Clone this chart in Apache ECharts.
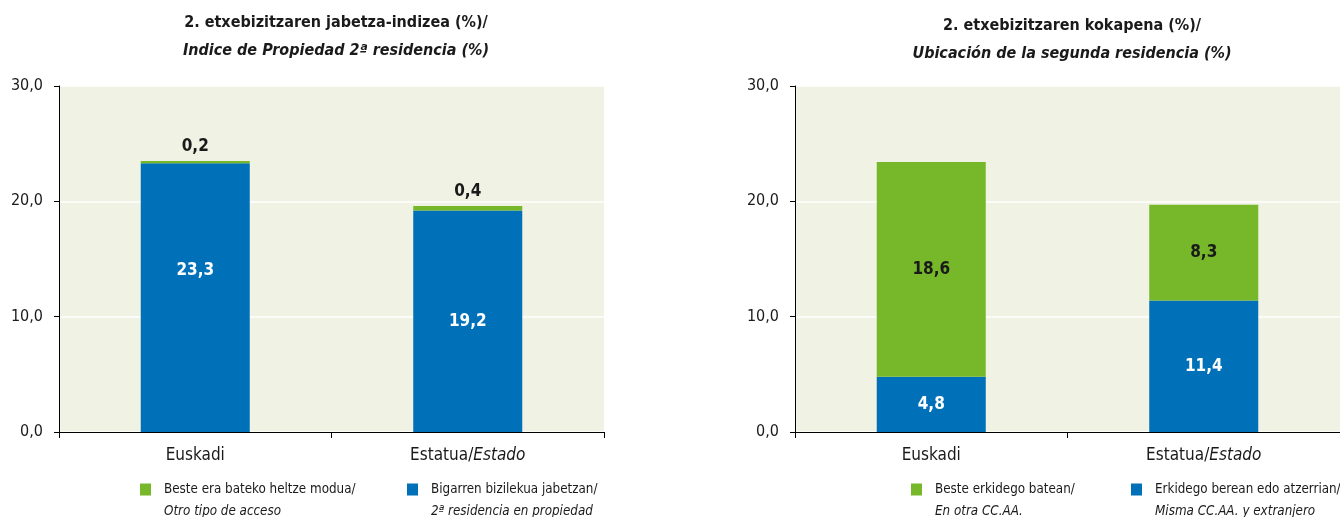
<!DOCTYPE html>
<html>
<head>
<meta charset="utf-8">
<script src="https://cdn.jsdelivr.net/npm/echarts@6/dist/echarts.min.js"></script>
<style>
  html, body { margin: 0; padding: 0; background: #fff; }
  #chart { width: 1340px; height: 517px; }
</style>
</head>
<body>
<div id="chart"></div>
<script>
// datuak / datos
const categories = ['Euskadi', 'Estatua/Estado'];
const ownedSecond = [23.3, 19.2];   // Bigarren bizilekua jabetzan
const otherAccess = [0.2, 0.4];     // Beste era bateko heltze modua
const sameRegion = [4.8, 11.4];     // Erkidego berean edo atzerrian
const otherRegion = [18.6, 8.3];    // Beste erkidego batean
const yMin = 0, yMax = 30, yStep = 10;

const titles = [
    ['2. etxebizitzaren jabetza-indizea (%)/', 'Indice de Propiedad 2ª residencia (%)'],
    ['2. etxebizitzaren kokapena (%)/', 'Ubicación de la segunda residencia (%)']
];
const legendText = {
    'Beste era bateko heltze modua/': 'Otro tipo de acceso',
    'Bigarren bizilekua jabetzan/': '2ª residencia en propiedad',
    'Beste erkidego batean/': 'En otra CC.AA.',
    'Erkidego berean edo atzerrian/': 'Misma CC.AA. y extranjero'
};

const GREEN = '#76b82a';
const BLUE = '#0071b9';
const FONT = "'Liberation Sans Narrow', 'DejaVu Sans Condensed', sans-serif";

var myChart = echarts.init(document.getElementById('chart'));

function fmt(v) {
    return v.toFixed(1).replace('.', ',');
}

function makeTitle(t, x, y) {
    return {
        text: '{a|' + t[0] + '}\n{b|' + t[1] + '}',
        left: x,
        top: y,
        textAlign: 'center',
        textStyle: {
            rich: {
                a: { fontFamily: FONT, fontSize: 16, fontWeight: 'bold', color: '#1a1a1a', lineHeight: 28 },
                b: { fontFamily: FONT, fontSize: 16, fontWeight: 'bold', fontStyle: 'italic', color: '#1a1a1a', lineHeight: 28 }
            }
        }
    };
}

function makeLegend(name, x) {
    return {
        data: [name],
        left: x,
        top: 483,
        padding: 0,
        itemWidth: 11,
        itemHeight: 12,
        icon: 'rect',
        selectedMode: false,
        formatter: function (n) {
            return '{a|' + n + '}\n{b|' + legendText[n] + '}';
        },
        textStyle: {
            padding: [22, 0, 0, 8],
            rich: {
                a: { fontFamily: FONT, fontSize: 13.3, color: '#1a1a1a', lineHeight: 22 },
                b: { fontFamily: FONT, fontSize: 13.3, fontStyle: 'italic', color: '#1a1a1a', lineHeight: 22 }
            }
        }
    };
}

function makeXAxis(gridIndex) {
    return {
        type: 'category',
        gridIndex: gridIndex,
        data: categories,
        axisLine: { show: true, lineStyle: { color: '#000', width: 1 } },
        axisTick: { show: true, length: 6, lineStyle: { color: '#000' } },
        axisLabel: {
            margin: 15,
            formatter: function (v) {
                var p = v.split('/');
                return p.length > 1 ? '{n|' + p[0] + '/}{i|' + p[1] + '}' : '{n|' + v + '}';
            },
            rich: {
                n: { fontFamily: FONT, fontSize: 17, color: '#1a1a1a' },
                i: { fontFamily: FONT, fontSize: 17, fontStyle: 'italic', color: '#1a1a1a' }
            }
        }
    };
}

function makeYAxis(gridIndex) {
    return {
        type: 'value',
        gridIndex: gridIndex,
        min: yMin,
        max: yMax,
        interval: yStep,
        axisLine: { show: true, lineStyle: { color: '#000', width: 1 } },
        axisTick: { show: true, length: 5, lineStyle: { color: '#000' } },
        axisLabel: {
            margin: 16,
            fontFamily: FONT,
            fontSize: 16,
            color: '#1a1a1a',
            formatter: function (v) { return fmt(v); }
        },
        splitLine: { show: true, lineStyle: { color: '#ffffff', width: 1.5 } }
    };
}

function insideLabel(color) {
    return {
        show: true,
        position: 'inside',
        fontFamily: FONT,
        fontSize: 17,
        fontWeight: 'bold',
        color: color,
        formatter: function (p) { return fmt(p.value); }
    };
}

// 23,3 etiketa barraren erdian baino gorago dago jatorrizkoan
var ownedData = ownedSecond.map(function (v, i) {
    return i === 0 ? { value: v, label: { offset: [0, -27] } } : v;
});

var option = {
    animation: false,
    textStyle: { fontFamily: FONT },
    title: [
        makeTitle(titles[0], 331, 4),
        makeTitle(titles[1], 1067, 7)
    ],
    legend: [
        makeLegend('Beste era bateko heltze modua/', 140),
        makeLegend('Bigarren bizilekua jabetzan/', 407),
        makeLegend('Beste erkidego batean/', 911),
        makeLegend('Erkidego berean edo atzerrian/', 1131)
    ],
    grid: [
        { left: 59, right: 736, top: 86, bottom: 85, show: true, backgroundColor: '#f0f2e3', borderWidth: 0 },
        { left: 795, right: 0, top: 86, bottom: 85, show: true, backgroundColor: '#f0f2e3', borderWidth: 0 }
    ],
    xAxis: [makeXAxis(0), makeXAxis(1)],
    yAxis: [makeYAxis(0), makeYAxis(1)],
    series: [
        {
            name: 'Bigarren bizilekua jabetzan/',
            type: 'bar', stack: 'a', xAxisIndex: 0, yAxisIndex: 0,
            barWidth: '40%',
            itemStyle: { color: BLUE },
            label: insideLabel('#ffffff'),
            data: ownedData
        },
        {
            name: 'Beste era bateko heltze modua/',
            type: 'bar', stack: 'a', xAxisIndex: 0, yAxisIndex: 0,
            barWidth: '40%',
            itemStyle: { color: GREEN },
            label: {
                show: true,
                position: 'top',
                distance: 6,
                fontFamily: FONT,
                fontSize: 17,
                fontWeight: 'bold',
                color: '#1a1a1a',
                formatter: function (p) { return fmt(p.value); }
            },
            data: otherAccess
        },
        {
            name: 'Erkidego berean edo atzerrian/',
            type: 'bar', stack: 'b', xAxisIndex: 1, yAxisIndex: 1,
            barWidth: '40%',
            itemStyle: { color: BLUE },
            label: insideLabel('#ffffff'),
            data: sameRegion
        },
        {
            name: 'Beste erkidego batean/',
            type: 'bar', stack: 'b', xAxisIndex: 1, yAxisIndex: 1,
            barWidth: '40%',
            itemStyle: { color: GREEN },
            label: insideLabel('#1a1a1a'),
            data: otherRegion
        }
    ]
};

option && myChart.setOption(option);
</script>
</body>
</html>
